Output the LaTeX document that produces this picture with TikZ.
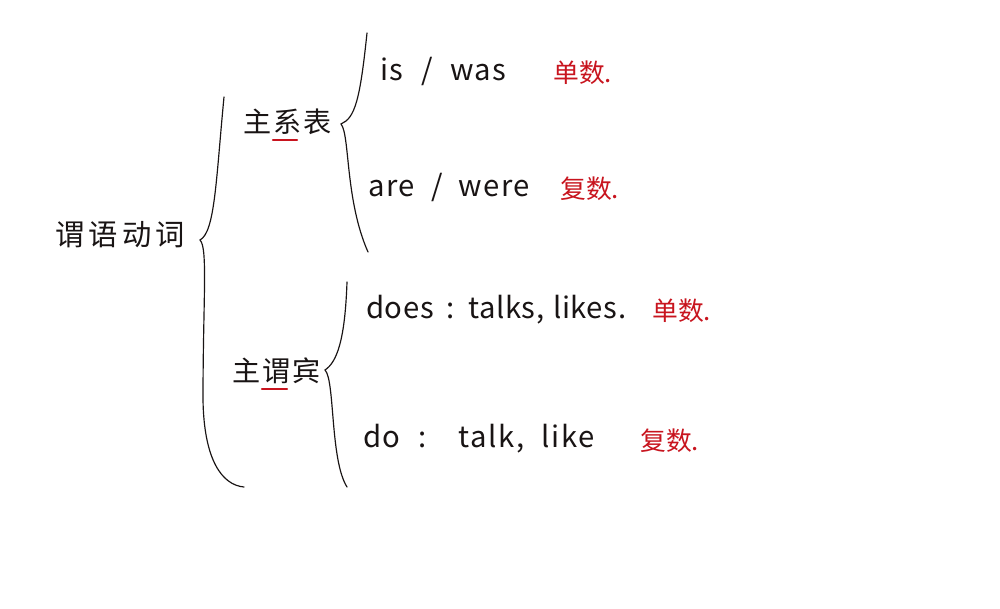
\documentclass[tikz,border=0pt]{standalone}
\usepackage{fontspec}
\setmainfont{Noto Sans CJK SC}
\newfontfamily\cjkwide[LetterSpace=14]{Noto Sans CJK SC}
\newfontfamily\cjkmid[LetterSpace=7]{Noto Sans CJK SC}
\newfontfamily\latwide[LetterSpace=5]{Noto Sans CJK SC}
\newfontfamily\latnarrow[LetterSpace=2]{Noto Sans CJK SC}
\definecolor{penred}{RGB}{200,20,30}
\definecolor{ink}{RGB}{25,20,20}
\begin{document}
\begin{tikzpicture}[x=0.03cm,y=-0.03cm,
  brace/.style={draw=ink,line width=1pt,line cap=round},
  cn/.style={inner sep=0pt,anchor=base west,text=ink,font=\cjkmid\fontsize{24}{28}\selectfont},
  en/.style={inner sep=0pt,anchor=base west,text=ink,font=\latwide\fontsize{25}{28}\selectfont},
  rd/.style={inner sep=0pt,anchor=base west,text=penred,font=\fontsize{22}{26}\selectfont},
  uline/.style={draw=penred,line width=2pt,line cap=round}]
\useasboundingbox[fill=white] (0,0) rectangle (1000,608);
% texts
\node[cn,font=\cjkwide\fontsize{25}{30}\selectfont] (root) at (55,245) {谓语动词};
\node[cn] (zxb) at (243,132) {主系表};
\node[cn] (zwb) at (232,381) {主谓宾};
\node[en] (iswas) at (380,80) {is\hspace{0.6em}/\hspace{0.6em}was};
\node[rd] (r1) at (553,82) {单数.};
\node[en] (arewere) at (368,196) {are\hspace{0.55em}/\hspace{0.55em}were};
\node[rd] (r2) at (560,198) {复数.};
\node[en,font=\latnarrow\fontsize{25}{28}\selectfont] (does) at (366,318) {does\hspace{0.45em}:\hspace{0.45em}talks,\hspace{0.3em}likes.};
\node[rd] (r3) at (652,320) {单数.};
\node[en] (do) at (363,447) {do\hspace{0.6em}:\hspace{1.1em}talk,\hspace{0.6em}like};
\node[rd] (r4) at (640,450) {复数.};
% underlines
\draw[uline] (273,140) -- (297,140);
\draw[uline] (262,389) -- (287,389);
% big brace
\draw[brace] (224,97) .. controls (216,180) and (215,232) .. (200,240)
  .. controls (208,248) and (203,300) .. (203,400)
  .. controls (204,460) and (222,485) .. (244,487);
% upper small brace
\draw[brace] (367,33) .. controls (360,100) and (355,118) .. (341,124)
  .. controls (350,135) and (345,200) .. (368,252);
% lower small brace
\draw[brace] (347,282) .. controls (345,340) and (337,362) .. (325,370)
  .. controls (335,380) and (330,460) .. (347,487);
\end{tikzpicture}
\end{document}
